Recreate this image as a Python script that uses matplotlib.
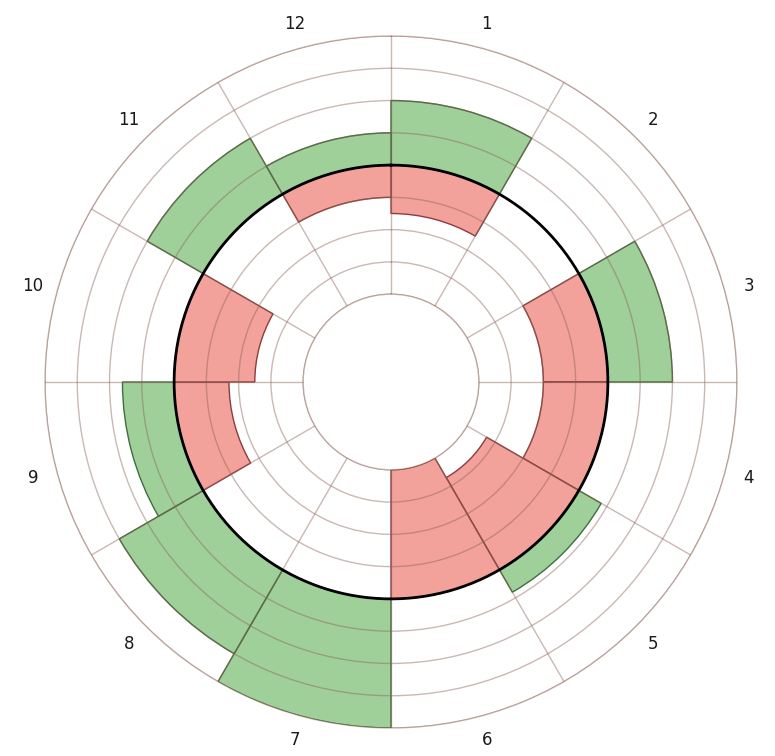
import numpy as np
import matplotlib.pyplot as plt

# sector labels, clockwise from the top
sectors = ['1', '2', '3', '4', '5', '6', '7', '8', '9', '10', '11', '12']
# values below the black baseline (red) and above it (green)
deficit = [-1.5, 0, -2, -2, -3.3, -4, 0, 0, -1.7, -2.5, 0, -1]
surplus = [2, 0, 2, 0, 0.8, 0, 4, 3, 1.6, 0, 2, 1]

base = 4          # radial level of the black circle
rmax = 8
hole = 2.72       # size of the empty centre, in ring units

pink = '#f3a19b'
pink_edge = '#8c3c3c'
green = '#9fd09a'
green_edge = '#3e6e3e'
grid_col = '#8a6458'

fig = plt.figure(figsize=(7.75, 7.56), dpi=100)
ax = fig.add_axes([45 / 775, 28 / 756, 692 / 775, 692 / 756], projection='polar')
ax.set_theta_zero_location('N')
ax.set_theta_direction(-1)
ax.set_ylim(0, rmax)
ax.set_rorigin(-hole)

step = 2 * np.pi / len(sectors)
theta = np.arange(len(sectors)) * step + step / 2

d = np.array(deficit)
s = np.array(surplus)
m = d != 0
ax.bar(theta[m], -d[m], width=step, bottom=base + d[m], color=pink,
       edgecolor=pink_edge, linewidth=1, zorder=1)
m = s != 0
ax.bar(theta[m], s[m], width=step, bottom=base, color=green,
       edgecolor=green_edge, linewidth=1, zorder=1)

# black reference circle
t = np.linspace(0, 2 * np.pi, 500)
ax.plot(t, np.full_like(t, base), color='black', lw=2, zorder=4)

ax.set_xticks(np.arange(len(sectors)) * step)
ax.set_xticklabels([])
ax.set_yticks(np.arange(0, rmax + 1))
ax.set_yticklabels([])
ax.set_axisbelow(False)
ax.grid(True, color=grid_col, alpha=0.45, lw=1)
for sp in ax.spines.values():
    sp.set_color(grid_col)
    sp.set_alpha(0.45)
    sp.set_linewidth(1)

for th, lab in zip(theta, sectors):
    ax.text(th, rmax + 0.76, lab, ha='center', va='center', fontsize=12,
            color='#1a1a1a')

fig.savefig('out.png', dpi=100, facecolor='white')
